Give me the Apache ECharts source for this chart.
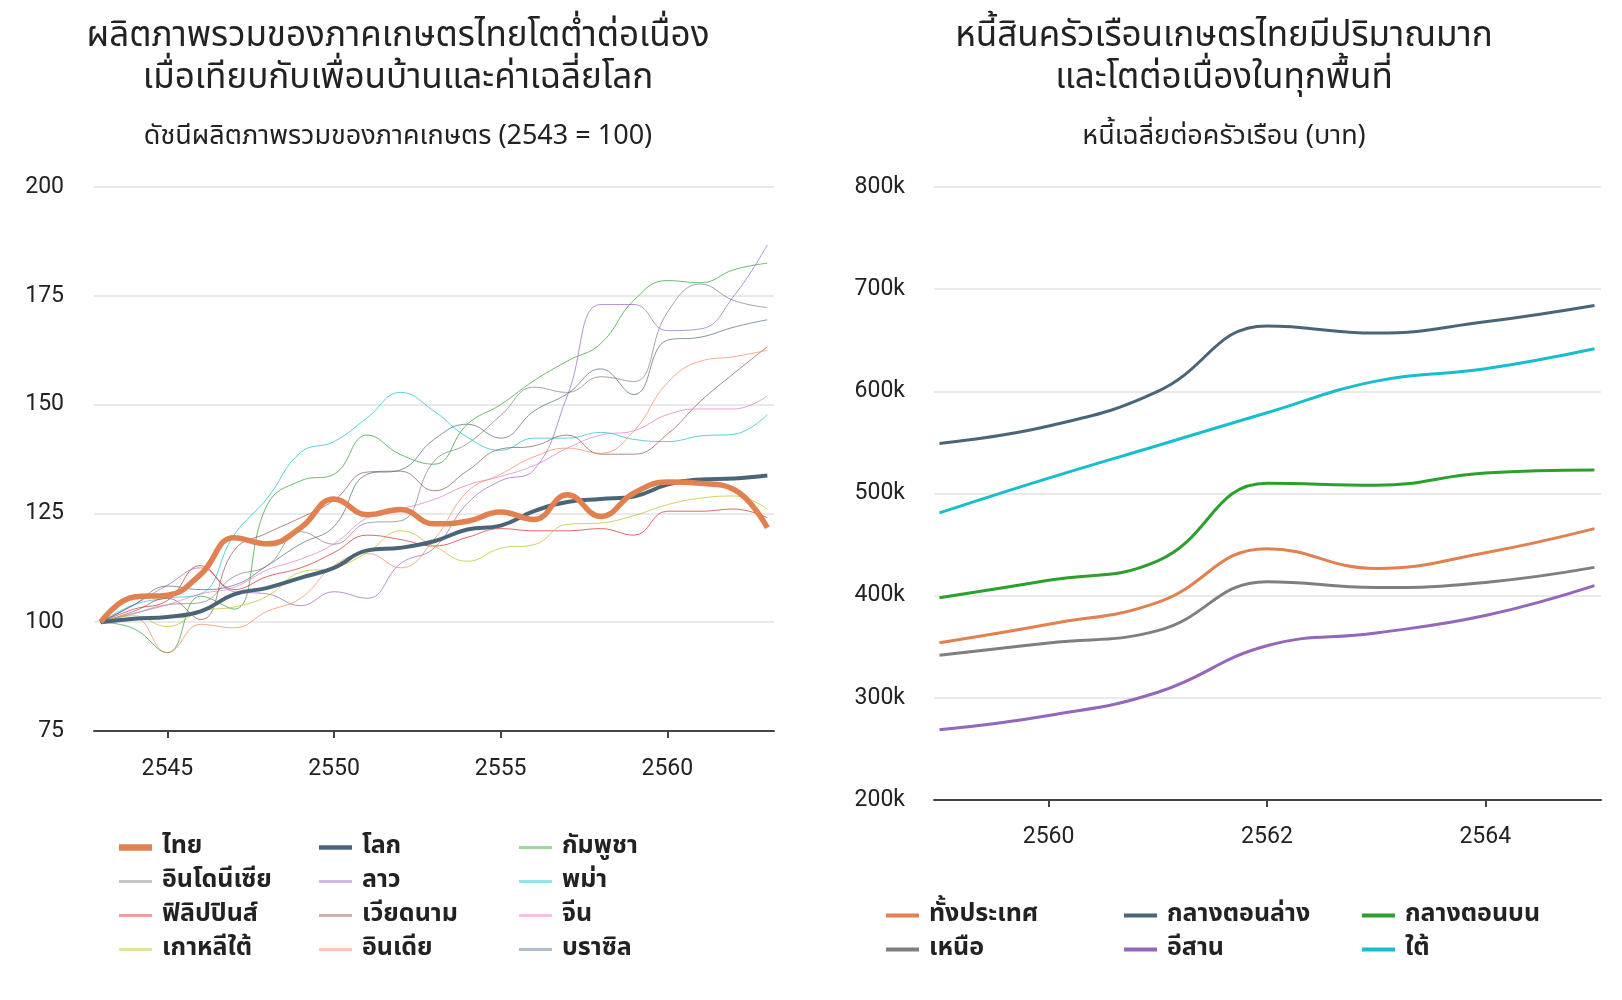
<!DOCTYPE html>
<html><head><meta charset="utf-8">
<script src="https://cdn.jsdelivr.net/npm/echarts@6/dist/echarts.min.js"></script>
<style>html,body{margin:0;padding:0;background:#fff}#c{width:1622px;height:1000px}</style>
</head><body><div id="c"></div>
<script>
// ---------- Left chart data (index 2543 = 100) ----------
const years = [2543,2544,2545,2546,2547,2548,2549,2550,2551,2552,2553,2554,2555,2556,2557,2558,2559,2560,2561,2562,2563];
const thai        = [100,105.8,106.2,111,119.4,118,121.7,128.3,124.7,125.9,122.6,123.2,125.3,123.6,129.3,124.3,129.7,132.2,131.9,130.5,121.7];
const world       = [100,100.8,101.2,102.5,106.4,107.9,110.2,112.5,116.5,117.1,118.6,121.3,122.2,125.5,127.6,128.3,128.9,131.6,132.8,133,133.7];
const cambodia    = [100,98.5,93,106,103,127,132.5,134,143,138.5,136.3,145.5,150,155.5,160,164,174,178.5,178,181,182.5];
const indonesia   = [100,102,104,104.5,110.5,113,120.8,117.9,122.8,123.3,137,141,147.5,154,152.8,156.4,155.3,171.2,177.7,173.9,172.3];
const laos        = [100,104,108.5,112.5,107,106.5,103.8,107,105.5,113.5,117,127.3,132.5,135,152,173,173,167,167.4,175,186.7];
const myanmar     = [100,104,105.5,106.5,120,128.5,139,141.5,147,152.8,148.5,142.5,139.5,142.3,142.3,143.6,142,141.5,142.8,143.2,147.7];
const philippines = [100,103,105,113,107.5,110.5,112.5,116,120,119,117.5,119.5,121.5,121,121,121.5,120,125.5,125.5,126,124];
const vietnam     = [100,102.5,105.5,100.6,116.5,120.5,124,128,134.5,134.7,130.2,134.8,139.8,140.5,143,138.6,138.6,143.2,150.8,157.2,163.3];
const china       = [100,102,104,106.5,108,112,114.5,118,124,126,128.2,131.5,133.5,136,140,143,144,147.7,149,149,152];
const korea       = [100,101.5,99,102.5,103.5,106,111.5,112.5,116,121,117.5,114,117,117.8,122.5,122.8,124.5,127,128.5,129,126];
const india       = [100,101,93,99.5,98.7,102.5,105.5,113,115.8,112.5,119,130,134,138,140,138.8,144,155,160,161,162.5];
const brazil      = [100,104,108.3,107.5,108.5,113,118,122,134,135,142,145.5,142.3,148.5,152.5,158.2,152.3,164.8,165.5,167.8,169.5];
const leftXTicks  = [2545,2550,2555,2560];

// ---------- Right chart data (baht per household) ----------
const debtYears   = [2559,2560,2561,2562,2563,2564,2565];
const debtTotal   = [354000,372000,393500,446000,426700,442000,465600];
const debtLowerC  = [549000,566000,600000,664000,657000,668000,684000];
const debtUpperC  = [398000,415000,434000,510000,508000,520000,523000];
const debtNorth   = [341700,353700,365800,413700,408000,413000,427700];
const debtNE      = [268700,282700,305500,351000,363500,380500,409800];
const debtSouth   = [481000,515000,547000,579000,610000,622000,641600];
const rightXTicks = [2560,2562,2564];

const THAI = "'Noto Sans Thai','Noto Sans Thai UI','Noto Sans','DejaVu Sans',sans-serif";
const NUM  = "'Roboto','Noto Sans',sans-serif";
const ink = '#222';

const chart = echarts.init(document.getElementById('c'));

function pairs(xs, ys){ return xs.map((x,i)=>[x, ys[i]]); }
function leftLine(name, data, color, width, op, z){
  return {name, type:'line', xAxisIndex:0, yAxisIndex:0, data:pairs(years,data),
    smooth:0.45, symbol:'none', showSymbol:false, z:z,
    lineStyle:{width:width, color:color, opacity:op}, itemStyle:{color:color},
    emphasis:{disabled:true}, animation:false};
}
function rightLine(name, data, color){
  return {name, type:'line', xAxisIndex:1, yAxisIndex:1, data:pairs(debtYears,data),
    smooth:0.45, symbol:'none', showSymbol:false,
    lineStyle:{width:3, color:color}, itemStyle:{color:color},
    emphasis:{disabled:true}, animation:false};
}

const C = {thai:'#e0814f', world:'#4b6578', kh:'#2ca02c', id:'#7f7f7f', la:'#9467bd', mm:'#17becf',
  ph:'#d62728', vn:'#8c564b', cn:'#e377c2', kr:'#bcbd22', in:'#f08a5d', br:'#4f6a80'};
const RC = {total:'#e0814f', lc:'#4b6578', uc:'#2ca02c', n:'#7f7f7f', ne:'#9467bd', s:'#17becf'};

const series = [
  leftLine('กัมพูชา', cambodia, C.kh, 1, 0.7, 2),
  leftLine('อินโดนีเซีย', indonesia, C.id, 1, 0.7, 2),
  leftLine('ลาว', laos, C.la, 1, 0.7, 2),
  leftLine('พม่า', myanmar, C.mm, 1, 0.7, 2),
  leftLine('ฟิลิปปินส์', philippines, C.ph, 1, 0.7, 2),
  leftLine('เวียดนาม', vietnam, C.vn, 1, 0.7, 2),
  leftLine('จีน', china, C.cn, 1, 0.7, 2),
  leftLine('เกาหลีใต้', korea, C.kr, 1, 0.7, 2),
  leftLine('อินเดีย', india, C.in, 1, 0.7, 2),
  leftLine('บราซิล', brazil, C.br, 1, 0.7, 2),
  leftLine('โลก', world, C.world, 4, 1, 4),
  leftLine('ไทย', thai, C.thai, 5.5, 1, 5),
  rightLine('ทั้งประเทศ', debtTotal, RC.total),
  rightLine('กลางตอนล่าง', debtLowerC, RC.lc),
  rightLine('กลางตอนบน', debtUpperC, RC.uc),
  rightLine('เหนือ', debtNorth, RC.n),
  rightLine('อีสาน', debtNE, RC.ne),
  rightLine('ใต้', debtSouth, RC.s)
];

function bar(h){ return 'path://M0,0H33V' + h + 'H0Z'; }
function legItem(name, color, h, op){ return {name:name, icon:bar(h), itemStyle:{color:color, opacity:op}}; }
const leftLegendData = [
  legItem('ไทย', C.thai, 6.5, 1),
  legItem('โลก', C.world, 4.5, 1),
  legItem('กัมพูชา', C.kh, 3, 0.45),
  legItem('อินโดนีเซีย', C.id, 3, 0.45),
  legItem('ลาว', C.la, 3, 0.45),
  legItem('พม่า', C.mm, 3, 0.45),
  legItem('ฟิลิปปินส์', C.ph, 3, 0.45),
  legItem('เวียดนาม', C.vn, 3, 0.45),
  legItem('จีน', C.cn, 3, 0.45),
  legItem('เกาหลีใต้', C.kr, 3, 0.45),
  legItem('อินเดีย', C.in, 3, 0.45),
  legItem('บราซิล', C.br, 3, 0.45)
];
const rightLegendData = [
  legItem('ทั้งประเทศ', RC.total, 4, 1),
  legItem('กลางตอนล่าง', RC.lc, 4, 1),
  legItem('กลางตอนบน', RC.uc, 4, 1),
  legItem('เหนือ', RC.n, 4, 1),
  legItem('อีสาน', RC.ne, 4, 1),
  legItem('ใต้', RC.s, 4, 1)
];

const axisLabelStyle = {fontFamily:NUM, fontSize:23, color:ink};

function titleText(x, y, text, size, lh){
  return {type:'text', x:x, y:y, silent:true,
    style:{text:text, textAlign:'center', textVerticalAlign:'top', font:`${size}px ${THAI}`, fill:ink, lineHeight:lh}};
}

chart.setOption({
  animation:false,
  backgroundColor:'#fff',
  graphic:[
    titleText(398, 18, 'ผลิตภาพรวมของภาคเกษตรไทยโตต่ำต่อเนื่อง\nเมื่อเทียบกับเพื่อนบ้านและค่าเฉลี่ยโลก', 35, 42),
    titleText(1224, 18, 'หนี้สินครัวเรือนเกษตรไทยมีปริมาณมาก\nและโตต่อเนื่องในทุกพื้นที่', 35, 42),
    titleText(398, 124, 'ดัชนีผลิตภาพรวมของภาคเกษตร (2543 = 100)', 27, 30),
    titleText(1224, 124, 'หนี้เฉลี่ยต่อครัวเรือน (บาท)', 27, 30)
  ],
  grid:[
    {left:94, top:187, width:680, height:544},
    {left:934, top:187, width:667, height:613}
  ],
  xAxis:[
    {type:'value', gridIndex:0, min:2542.8, max:2563.2,
      axisLine:{show:true, lineStyle:{color:'#444', width:2}},
      axisTick:{show:true, customValues:leftXTicks, length:7, lineStyle:{color:'#444', width:2}},
      axisLabel:{customValues:leftXTicks, margin:27, ...axisLabelStyle, formatter:v=>String(v)},
      splitLine:{show:false}},
    {type:'value', gridIndex:1, min:2558.95, max:2565.06,
      axisLine:{show:true, lineStyle:{color:'#444', width:2}},
      axisTick:{show:true, customValues:rightXTicks, length:7, lineStyle:{color:'#444', width:2}},
      axisLabel:{customValues:rightXTicks, margin:26, ...axisLabelStyle, formatter:v=>String(v)},
      splitLine:{show:false}}
  ],
  yAxis:[
    {type:'value', gridIndex:0, min:75, max:200, interval:25,
      axisLine:{show:false}, axisTick:{show:false},
      axisLabel:{margin:30, ...axisLabelStyle},
      splitLine:{show:true, lineStyle:{color:'#e3e3e3', width:1.5}}},
    {type:'value', gridIndex:1, min:200000, max:800000, interval:100000,
      axisLine:{show:false}, axisTick:{show:false},
      axisLabel:{margin:29, ...axisLabelStyle, formatter:v=>(v/1000)+'k'},
      splitLine:{show:true, lineStyle:{color:'#e3e3e3', width:1.5}}}
  ],
  legend:[
    {data:leftLegendData, left:114, top:829, width:600, orient:'horizontal',
      itemWidth:33, itemHeight:14, itemGap:7, selectedMode:false, symbolKeepAspect:true,
      textStyle:{fontFamily:THAI, fontSize:25, fontWeight:'bold', color:ink, width:150, lineHeight:27, padding:[0,0,0,5]}},
    {data:rightLegendData, left:881, top:897, width:720, orient:'horizontal',
      itemWidth:33, itemHeight:14, itemGap:7, selectedMode:false, symbolKeepAspect:true,
      textStyle:{fontFamily:THAI, fontSize:25, fontWeight:'bold', color:ink, width:188, lineHeight:27, padding:[0,0,0,5]}}
  ],
  series:series
});
</script>
</body></html>
